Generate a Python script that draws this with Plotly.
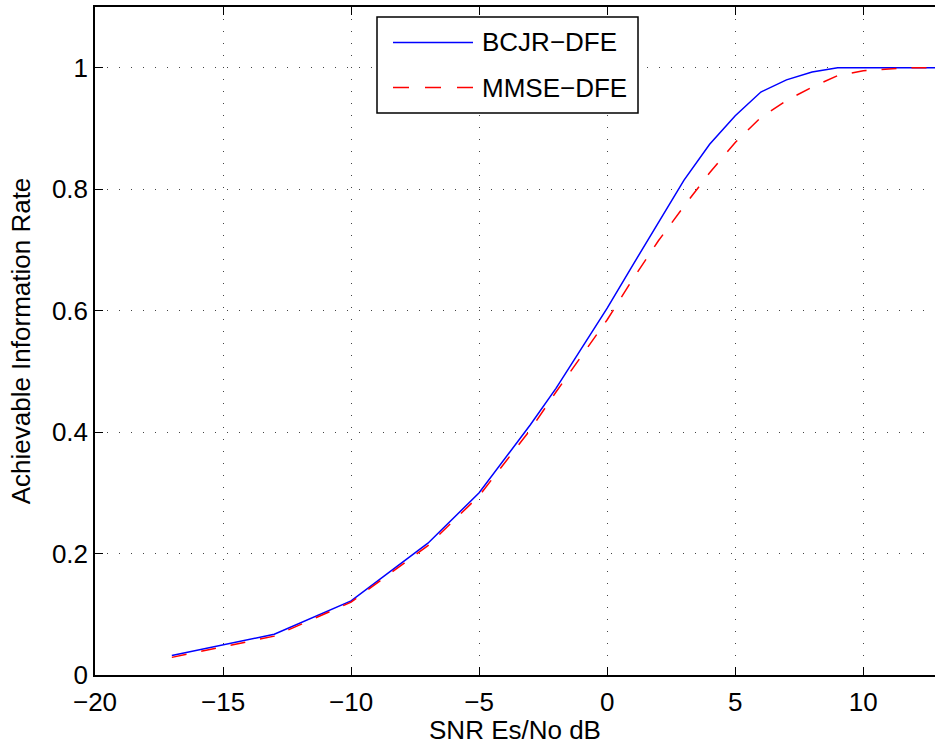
import plotly.graph_objects as go

# SNR grid (dB) and achievable information rates for the two equalizers
snr_db = [-17, -13, -10, -7, -5, -3, -2, -1, 0, 1, 2, 3, 4, 5, 6, 7, 8, 9, 10, 11, 12, 13]
rate_bcjr = [0.032, 0.067, 0.122, 0.217, 0.300, 0.412, 0.472, 0.537, 0.604, 0.675, 0.745,
             0.815, 0.874, 0.921, 0.960, 0.980, 0.993, 1.0, 1.0, 1.0, 1.0, 1.0]
rate_mmse = [0.029, 0.064, 0.120, 0.213, 0.295, 0.404, 0.466, 0.526, 0.585, 0.652, 0.715,
             0.772, 0.827, 0.877, 0.918, 0.946, 0.968, 0.987, 0.995, 0.998, 1.0, 1.0]

series_names = ["BCJR\u2212DFE", "MMSE\u2212DFE"]
x_ticks = [-20, -15, -10, -5, 0, 5, 10]
y_ticks = [0, 0.2, 0.4, 0.6, 0.8, 1]
y_tick_text = ["0", "0.2", "0.4", "0.6", "0.8", "1"]

FONT = "Liberation Sans, Arial, Helvetica, sans-serif"
W, H = 935, 745
M_L, M_R, M_T, M_B = 95, 0, 7, 70
PW, PH = W - M_L - M_R, H - M_T - M_B

BLUE = "#0000ff"
RED = "#ff0000"
DASH = "15px,15px"

fig = go.Figure()
fig.add_trace(go.Scatter(x=snr_db, y=rate_bcjr, mode="lines", name=series_names[0],
                         line=dict(color=BLUE, width=1.5), showlegend=False))
fig.add_trace(go.Scatter(x=snr_db, y=rate_mmse, mode="lines", name=series_names[1],
                         line=dict(color=RED, width=1.5, dash=DASH), showlegend=False))


def px_x(p):
    return (p - M_L) / PW


def px_y(p):
    return (H - M_B - p) / PH


# legend box drawn in paper coordinates
shapes = [
    dict(type="rect", xref="paper", yref="paper",
         x0=px_x(377), x1=px_x(638), y0=px_y(113), y1=px_y(17),
         line=dict(color="black", width=1.5), fillcolor="white", layer="above"),
    dict(type="line", xref="paper", yref="paper",
         x0=px_x(393), x1=px_x(473), y0=px_y(42.5), y1=px_y(42.5),
         line=dict(color=BLUE, width=1.5), layer="above"),
    dict(type="line", xref="paper", yref="paper",
         x0=px_x(393), x1=px_x(473), y0=px_y(87.5), y1=px_y(87.5),
         line=dict(color=RED, width=1.5, dash="16px,16px"), layer="above"),
]
annotations = [
    dict(xref="paper", yref="paper", x=px_x(480), y=px_y(y), text=t,
         showarrow=False, xanchor="left", yanchor="middle",
         font=dict(family=FONT, size=26, color="black"))
    for t, y in zip(series_names, [42.5, 87.5])
]

axis_common = dict(
    showline=True, linecolor="black", linewidth=1.5,
    ticks="inside", ticklen=8, tickwidth=1.2, tickcolor="black",
    showgrid=True, gridcolor="#444444", gridwidth=1, griddash="1px,11px",
    zeroline=False,
    tickfont=dict(family=FONT, size=26, color="black"),
)

fig.update_layout(
    width=W, height=H,
    margin=dict(l=M_L, r=M_R, t=M_T, b=M_B, pad=0),
    paper_bgcolor="white", plot_bgcolor="white",
    shapes=shapes, annotations=annotations,
    xaxis=dict(range=[-20, 12.8], tickvals=x_ticks, mirror="allticks",
               ticklabelstandoff=3,
               title=dict(text="SNR Es/No dB", standoff=3,
                          font=dict(family=FONT, size=26, color="black")),
               **axis_common),
    yaxis=dict(range=[0, 1.1], tickvals=y_ticks, ticktext=y_tick_text,
               title=dict(text="Achievable Information Rate", standoff=14,
                          font=dict(family=FONT, size=26, color="black")),
               **axis_common),
)

fig.write_html("out.html")
